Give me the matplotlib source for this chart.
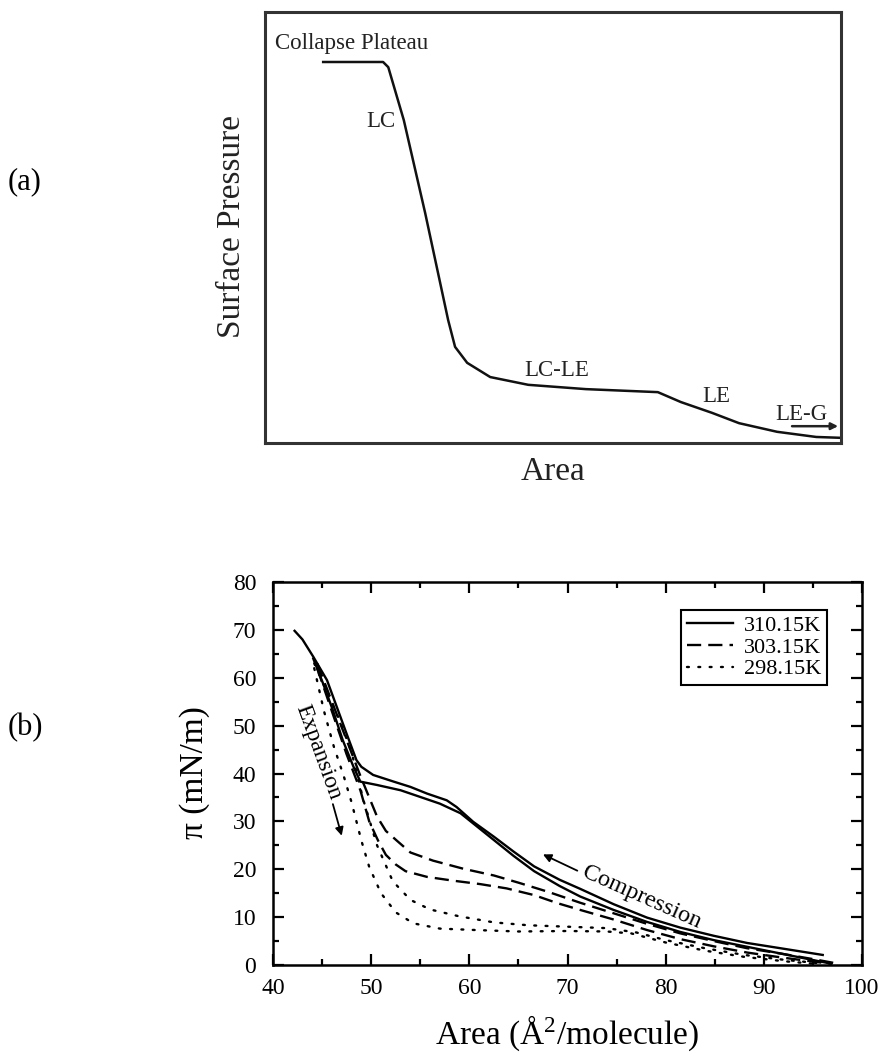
import matplotlib
matplotlib.use('Agg')
import matplotlib.pyplot as plt
from matplotlib.ticker import MultipleLocator

plt.rcParams['font.family'] = ['Liberation Serif', 'DejaVu Serif']
plt.rcParams['mathtext.fontset'] = 'custom'
plt.rcParams['mathtext.rm'] = 'Liberation Serif'
plt.rcParams['mathtext.it'] = 'Liberation Serif:italic'

# ---------------- (a) schematic isotherm (axes-fraction units) ----------------
schem_area = [0.101, 0.205, 0.214, 0.241, 0.278, 0.318, 0.330, 0.351, 0.391,
              0.457, 0.557, 0.682, 0.722, 0.776, 0.823, 0.889, 0.957, 1.0]
schem_pressure = [0.884, 0.884, 0.872, 0.749, 0.534, 0.285, 0.223, 0.186, 0.153,
                  0.135, 0.125, 0.118, 0.095, 0.070, 0.046, 0.026, 0.014, 0.012]
phase_labels = ['Collapse Plateau', 'LC', 'LC-LE', 'LE', 'LE-G']
phase_x = [0.017, 0.201, 0.507, 0.783, 0.932]
phase_y = [0.928, 0.745, 0.169, 0.107, 0.065]

# ---------------- (b) measured isotherms ----------------
temps = ['310.15K', '303.15K', '298.15K']

a310_comp = [42.2, 43.0, 44.1, 45.5, 46.5, 47.5, 48.5, 49.0, 50.2, 52.3, 54.0, 55.7,
             57.7, 58.7, 60.4, 62.5, 64.5, 66.6, 69.2, 71.3, 74.7, 78.1, 81.5, 84.9,
             88.3, 91.7, 96.0]
p310_comp = [69.8, 68.0, 64.4, 59.5, 53.9, 48.3, 42.8, 41.4, 39.7, 38.3, 37.2, 35.8,
             34.4, 33.0, 29.9, 26.8, 23.7, 20.6, 17.8, 15.9, 12.7, 9.9, 7.8, 6.1,
             4.6, 3.5, 2.1]
a310_exp = [44.1, 45.1, 46.1, 47.1, 48.2, 48.9, 50.6, 53.0, 55.0, 57.0, 59.1, 60.8,
            62.5, 64.5, 66.6, 69.2, 71.3, 74.7, 78.1, 81.5, 84.9, 88.3, 91.7, 95.1, 96.8]
p310_exp = [64.0, 58.8, 53.2, 47.0, 41.4, 38.3, 37.6, 36.5, 35.1, 33.7, 31.7, 28.9,
            26.1, 22.8, 19.6, 16.5, 14.3, 11.5, 9.0, 6.9, 5.2, 3.8, 2.4, 1.0, 0.3]

a303_comp = [44.5, 46.0, 47.5, 48.9, 49.6, 50.6, 51.5, 52.6, 54.0, 56.3, 59.4, 62.5,
             65.0, 68.0, 71.3, 74.7, 78.1, 81.5, 84.9, 88.3, 91.7, 95.1, 97.5]
p303_comp = [63.0, 55.0, 47.0, 39.5, 36.0, 31.0, 28.0, 26.0, 23.5, 21.8, 20.1, 18.7,
             17.2, 15.3, 13.0, 10.8, 8.6, 6.6, 5.0, 3.5, 2.4, 1.2, 0.3]
a303_exp = [44.5, 46.0, 47.5, 48.9, 49.8, 50.7, 51.5, 52.5, 53.5, 55.7, 58.4, 61.1,
            63.8, 66.6, 69.0, 71.3, 74.7, 78.1, 81.5, 84.9, 88.3, 91.7, 95.1, 97.0]
p303_exp = [62.0, 53.0, 44.0, 36.5, 30.0, 26.0, 23.0, 21.0, 19.6, 18.4, 17.6, 16.9,
            16.0, 14.6, 12.9, 11.5, 9.5, 7.3, 5.4, 3.9, 2.6, 1.6, 0.7, 0.2]

a298_comp = [44.2, 45.5, 46.8, 48.0, 49.2, 50.6, 52.2, 54.0, 56.0, 58.9, 62.5, 66.0,
             70.0, 74.0, 77.0, 80.0, 84.0, 88.0, 92.0, 96.0]
p298_comp = [63.0, 57.0, 51.0, 44.5, 34.5, 25.0, 17.5, 13.6, 11.6, 10.2, 8.9, 8.3,
             8.0, 7.7, 6.8, 5.2, 3.5, 2.1, 1.1, 0.3]
a298_exp = [44.2, 45.2, 46.2, 47.2, 48.0, 49.0, 49.8, 51.0, 52.5, 54.3, 57.0, 60.7,
            65.0, 70.0, 74.0, 76.5, 80.0, 84.0, 88.0, 92.0, 95.5]
p298_exp = [62.0, 53.0, 45.6, 39.5, 34.0, 26.0, 20.5, 15.0, 11.0, 8.7, 7.6, 7.3,
            7.0, 7.1, 7.0, 6.6, 4.7, 3.0, 1.7, 0.8, 0.2]

W, H = 886, 1053
fig = plt.figure(figsize=(W / 100, H / 100), dpi=100)

# ---------------- panel (a) ----------------
ax1 = fig.add_axes([265 / W, 1 - 443 / H, 576 / W, 431 / H])
ax1.plot(schem_area, schem_pressure, color='#111111', lw=1.8)
ax1.set_xlim(0, 1)
ax1.set_ylim(0, 1)
ax1.set_xticks([])
ax1.set_yticks([])
for s in ax1.spines.values():
    s.set_linewidth(2.2)
    s.set_color('#333333')
for i, lab in enumerate(phase_labels):
    ax1.text(phase_x[i], phase_y[i], lab, fontsize=16.5, color='#222222',
             ha='left' if i == 0 else 'center', va='center')
ax1.annotate('', xy=(0.995, 0.039), xytext=(0.915, 0.039), xycoords='axes fraction',
             arrowprops=dict(arrowstyle='-|>', lw=1.8, color='#222222', mutation_scale=10,
                             shrinkA=0, shrinkB=0))
fig.text(232 / W, 1 - 227 / H, 'Surface Pressure', rotation=90, fontsize=24,
         ha='center', va='center', color='#222222')
fig.text(553 / W, 1 - 472 / H, 'Area', fontsize=24, ha='center', va='center',
         color='#222222')
fig.text(25 / W, 1 - 182 / H, '(a)', fontsize=22, ha='center', va='center')

# ---------------- panel (b) ----------------
ax2 = fig.add_axes([273 / W, 1 - 965 / H, 589 / W, 383 / H])
kw_solid = dict(color='black', lw=1.7, linestyle='-')
kw_dash = dict(color='black', lw=1.7, linestyle=(0, (6, 3)))
kw_dot = dict(color='black', lw=1.7, linestyle=(0, (0.8, 4)), dash_capstyle='round')

ax2.plot(a310_comp, p310_comp, label=temps[0], **kw_solid)
ax2.plot(a310_exp, p310_exp, **kw_solid)
ax2.plot(a303_comp, p303_comp, label=temps[1], **kw_dash)
ax2.plot(a303_exp, p303_exp, **kw_dash)
ax2.plot(a298_comp, p298_comp, label=temps[2], **kw_dot)
ax2.plot(a298_exp, p298_exp, **kw_dot)

ax2.set_xlim(40, 100)
ax2.set_ylim(0, 80)
ax2.xaxis.set_major_locator(MultipleLocator(10))
ax2.xaxis.set_minor_locator(MultipleLocator(5))
ax2.yaxis.set_major_locator(MultipleLocator(10))
ax2.yaxis.set_minor_locator(MultipleLocator(5))
ax2.tick_params(which='both', direction='in', top=True, right=True, width=1.6)
ax2.tick_params(which='major', length=8)
ax2.tick_params(which='minor', length=4.5)
ax2.tick_params(axis='y', which='major', labelsize=17, pad=12)
ax2.tick_params(axis='x', which='major', labelsize=17, pad=9)
for s in ax2.spines.values():
    s.set_linewidth(1.8)

leg = ax2.legend(loc='upper right', bbox_to_anchor=(0.941, 0.927), fontsize=16,
                 frameon=True, fancybox=False, edgecolor='black', framealpha=1,
                 handlelength=2.1, handletextpad=0.5, labelspacing=0.05,
                 borderpad=0.25, borderaxespad=0)
leg.get_frame().set_linewidth(1.5)

ax2.text(44.6, 44.4, 'Expansion', rotation=-70, rotation_mode='anchor',
         ha='center', va='center', fontsize=17)
ax2.annotate('', xy=(47.0, 27.0), xytext=(46.1, 33.6),
             arrowprops=dict(arrowstyle='-|>', lw=1.3, color='black', mutation_scale=12,
                             shrinkA=0, shrinkB=0))
ax2.text(77.6, 14.1, 'Compression', rotation=-24, rotation_mode='anchor',
         ha='center', va='center', fontsize=17.5)
ax2.annotate('', xy=(67.5, 23.1), xytext=(71.0, 19.7),
             arrowprops=dict(arrowstyle='-|>', lw=1.3, color='black', mutation_scale=12,
                             shrinkA=0, shrinkB=0))

fig.text(567 / W, 1 - 1033 / H, 'Area (Å$^{2}$/molecule)', fontsize=24,
         ha='center', va='center')
fig.text(195 / W, 1 - 773 / H, 'π (mN/m)', rotation=90, fontsize=24,
         ha='center', va='center')
fig.text(25 / W, 1 - 728 / H, '(b)', fontsize=22, ha='center', va='center')

fig.savefig('out.png', dpi=100)
